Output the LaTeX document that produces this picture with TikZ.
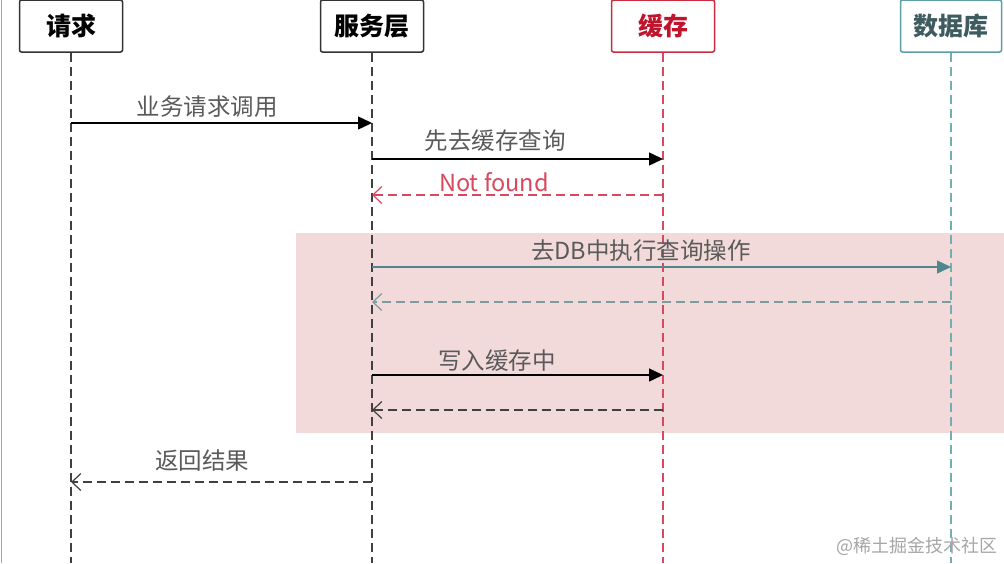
\documentclass[tikz,border=0pt]{standalone}
\usepackage{fontspec}
\setmainfont{Noto Sans CJK SC}
\usetikzlibrary{arrows.meta}
\definecolor{boxblack}{HTML}{333333}
\definecolor{cachered}{HTML}{CC2A3E}
\definecolor{cachetext}{HTML}{C0142C}
\definecolor{dbteal}{HTML}{5E9EA6}
\definecolor{dbtext}{HTML}{3E5B60}
\definecolor{bandpink}{HTML}{F3DADA}
\definecolor{labelgray}{HTML}{5A5A5A}
\definecolor{lifeblack}{HTML}{404040}
\definecolor{lifered}{HTML}{D9485E}
\definecolor{lifeteal}{HTML}{72AEB5}
\definecolor{retteal}{HTML}{7A9EA0}
\tikzset{
  actor/.style={draw=#1, line width=1.5pt, rounded corners=2pt, fill=white,
    minimum width=103pt, minimum height=52pt, inner sep=0pt,
    font=\fontsize{25}{25}\selectfont\bfseries},
  lifeline/.style={draw=#1, line width=1.4pt, dash pattern=on 9pt off 5pt},
  callmsg/.style={draw=#1, line width=1.4pt, -{Triangle[length=14pt,width=13pt]}},
  retmsg/.style={draw=#1, line width=1.4pt, dash pattern=on 9pt off 5pt,
    -{Straight Barb[length=9pt,width=17pt,line width=1.2pt]}},
  msglabel/.style={text=#1, font=\fontsize{23.5}{23.5}\selectfont, inner sep=0pt},
}
\begin{document}
\begin{tikzpicture}[x=1pt,y=-1pt]
\fill[white] (0,0) rectangle (1004,563);
\useasboundingbox (0,0) rectangle (1004,563);
\draw[gray!70, line width=1pt] (1.5,0) -- (1.5,563);
% pink band
\fill[bandpink] (296,233) rectangle (1004,433);

% lifeline ends
\coordinate (reqEnd) at (71,563);
\coordinate (svcEnd) at (372,563);
\coordinate (cacheEnd) at (663,563);
\coordinate (dbEnd) at (951,563);

% actors
\node[actor=boxblack, text=black] (req) at (71,26) {请求};
\node[actor=boxblack, text=black] (svc) at (372,26) {服务层};
\node[actor=cachered, text=cachetext] (cache) at (663,26) {缓存};
\node[actor=dbteal, text=dbtext, minimum width=101pt] (db) at (951,26) {数据库};

% lifelines
\draw[lifeline=lifeblack] (req.south) -- (reqEnd);
\draw[lifeline=lifeblack] (svc.south) -- (svcEnd);
\draw[lifeline=lifered] (cache.south) -- (cacheEnd);
\draw[lifeline=lifeteal] (db.south) -- (dbEnd);

% message anchor points
\coordinate (r1) at (71,123);  \coordinate (s1) at (372,123);
\coordinate (s2) at (372,159); \coordinate (c2) at (663,159);
\coordinate (c3) at (663,195); \coordinate (s3) at (372,195);
\coordinate (s4) at (372,267); \coordinate (d4) at (951,267);
\coordinate (d5) at (951,302); \coordinate (s5) at (372,302);
\coordinate (s6) at (372,375); \coordinate (c6) at (663,375);
\coordinate (c7) at (663,410); \coordinate (s7) at (372,410);
\coordinate (s8) at (372,482); \coordinate (r8) at (71,482);

% messages
\draw[callmsg=black] (r1) -- (s1);
\node[msglabel=labelgray] (l1) at (207,107) {业务请求调用};
\draw[callmsg=black] (s2) -- (c2);
\node[msglabel=labelgray] (l2) at (495,141) {先去缓存查询};
\draw[retmsg=lifered] (c3) -- (s3);
\node[msglabel=lifered] (l3) at (494,182) {Not found};
\draw[callmsg=dbteal!85!black] (s4) -- (d4);
\node[msglabel=labelgray] (l4) at (641,251) {去DB中执行查询操作};
\draw[retmsg=retteal] (d5) -- (s5);
\draw[callmsg=black] (s6) -- (c6);
\node[msglabel=labelgray] (l6) at (497,361) {写入缓存中};
\draw[retmsg=lifeblack] (c7) -- (s7);
\draw[retmsg=lifeblack] (s8) -- (r8);
\node[msglabel=labelgray] (l8) at (202,461) {返回结果};

% watermark
\node[text=gray!70, font=\fontsize{18}{18}\selectfont, anchor=east, inner sep=0pt] (wm) at (998,546) {@稀土掘金技术社区};
\end{tikzpicture}
\end{document}
